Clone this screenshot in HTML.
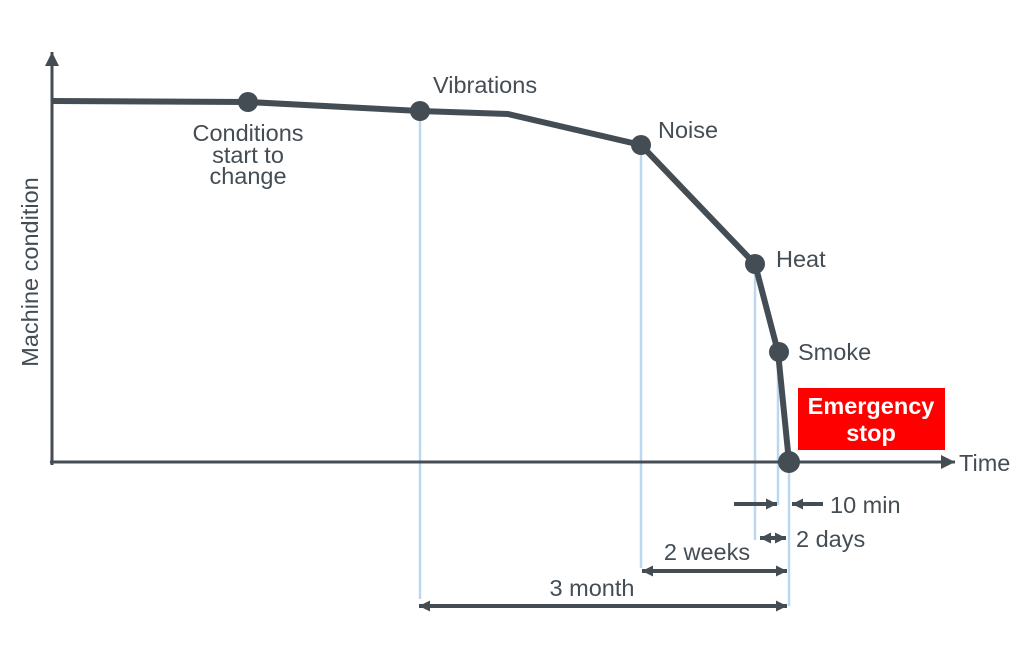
<!DOCTYPE html>
<html><head><meta charset="utf-8"><style>
html,body{margin:0;padding:0;background:#fff;}
svg{display:block;}
text{font-family:"Liberation Sans",sans-serif;fill:#454d54;}
</style></head><body>
<svg width="1021" height="668" viewBox="0 0 1021 668" xmlns="http://www.w3.org/2000/svg">
<defs>
<marker id="ah" markerWidth="16" markerHeight="16" refX="14" refY="7" orient="auto-start-reverse" markerUnits="userSpaceOnUse"><path d="M0,0 L14,7 L0,14 Z" fill="#454d54"/></marker>
<marker id="as" markerWidth="12" markerHeight="12" refX="11" refY="5.5" orient="auto-start-reverse" markerUnits="userSpaceOnUse"><path d="M0,0 L11,5.5 L0,11 Z" fill="#454d54"/></marker>
</defs>
<g stroke="#bcd8f0" stroke-width="2.5">
<line x1="420" y1="111" x2="420" y2="599"/>
<line x1="641" y1="145" x2="641" y2="568"/>
<line x1="755" y1="264" x2="755" y2="540"/>
<line x1="778" y1="352" x2="778" y2="505"/>
<line x1="789" y1="462" x2="789" y2="606"/>
</g>
<line x1="52" y1="465" x2="52" y2="52" stroke="#454d54" stroke-width="3" marker-end="url(#ah)"/>
<line x1="50" y1="462" x2="955" y2="462" stroke="#454d54" stroke-width="3" marker-end="url(#ah)"/>
<polyline points="52,101 248,102 420,111 508,114 641,145 755,264 778,352 789,462" fill="none" stroke="#454d54" stroke-width="6" stroke-linejoin="round"/>
<g fill="#454d54">
<circle cx="248" cy="102" r="10"/><circle cx="420" cy="111" r="10"/><circle cx="641" cy="145" r="10"/>
<circle cx="755" cy="264" r="10"/><circle cx="779" cy="352" r="10"/><circle cx="789" cy="462" r="11"/>
</g>
<rect x="798" y="388" width="147" height="62" fill="#ff0000"/>
<text x="871" y="414" text-anchor="middle" font-size="23.5" font-weight="bold" style="fill:#fff">Emergency</text>
<text x="871" y="441" text-anchor="middle" font-size="23.5" font-weight="bold" style="fill:#fff">stop</text>
<g stroke="#454d54" stroke-width="4">
<line x1="734" y1="504" x2="777" y2="504" marker-end="url(#as)"/>
<line x1="823" y1="504" x2="792" y2="504" marker-end="url(#as)"/>
<line x1="760" y1="538" x2="786" y2="538" marker-start="url(#as)" marker-end="url(#as)"/>
<line x1="642" y1="571" x2="787" y2="571" marker-start="url(#as)" marker-end="url(#as)"/>
<line x1="419" y1="606" x2="787" y2="606" marker-start="url(#as)" marker-end="url(#as)"/>
</g>
<g font-size="23.5">
<text x="248" y="141" text-anchor="middle">Conditions</text>
<text x="248" y="163" text-anchor="middle">start to</text>
<text x="248" y="184" text-anchor="middle">change</text>
<text x="433" y="93">Vibrations</text>
<text x="658" y="138">Noise</text>
<text x="776" y="267">Heat</text>
<text x="798" y="360">Smoke</text>
<text x="959" y="471">Time</text>
<text x="830" y="513">10 min</text>
<text x="796" y="547">2 days</text>
<text x="707" y="560" text-anchor="middle">2 weeks</text>
<text x="592" y="596" text-anchor="middle">3 month</text>
<text transform="translate(38,272) rotate(-90)" text-anchor="middle">Machine condition</text>
</g>
</svg>
</body></html>
